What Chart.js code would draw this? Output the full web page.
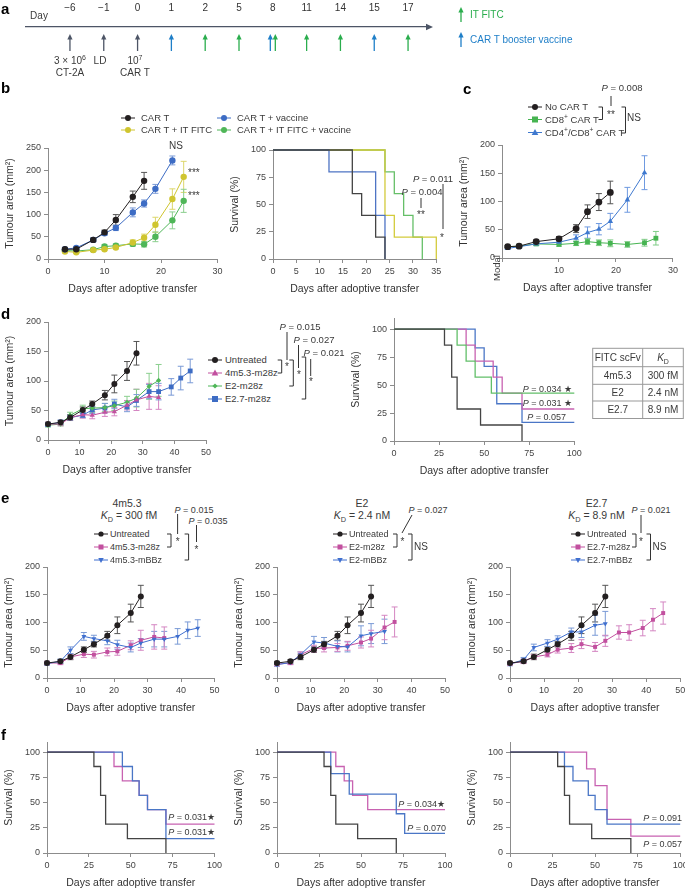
<!DOCTYPE html>
<html><head><meta charset="utf-8">
<script src="https://cdn.jsdelivr.net/npm/chart.js@4.4.1/dist/chart.umd.min.js"></script>
<style>
body{margin:0;width:685px;height:888px;position:relative;background:#fff;font-family:"Liberation Sans",Arial,sans-serif;color:#3a3a3a;overflow:hidden}
.t{position:absolute;white-space:nowrap;font-size:9.5px;line-height:1}
.c{transform:translate(-50%,-50%)}
.l{transform:translate(0,-50%)}
.r{transform:translate(-100%,-50%)}
.pl{position:absolute;font-weight:bold;font-size:15px;color:#000;line-height:1;transform:translate(0,-50%)}
canvas{position:absolute}
svg{position:absolute;left:0;top:0}
sup,sub{font-size:70%;line-height:0}
</style></head><body>
<svg id="ov" width="685" height="888"></svg>
<script>
Chart.defaults.font.family = '"Liberation Sans", Arial, sans-serif';
Chart.defaults.color = '#444';

// timeline (panel a)
const timelineDays = ['\u22126', '\u22121', '0', '1', '2', '5', '8', '11', '14', '15', '17'];
const setupDays = ['\u22126', '\u22121', '0'];
const vaccineDays = ['1', '8', '15'];
const fitcDays = ['2', '5', '8', '11', '14', '17'];

// panel b, tumour area
const bCarTDays = [3, 5, 8, 10, 12, 15, 17];
const bCarT = [22, 22, 43, 60, 88, 140, 176];
const bCarTErr = [3, 3, 4, 5, 12, 13, 19];
const bVacDays = [3, 5, 8, 10, 12, 15, 17, 19, 22];
const bVac = [22, 25, 43, 58, 70, 105, 125, 158, 222];
const bVacErr = [3, 3, 4, 5, 6, 10, 8, 10, 10];
const bFitcDays = [3, 5, 8, 10, 12, 15, 17, 19, 22, 24];
const bFitc = [17, 15, 20, 22, 26, 37, 48, 77, 135, 185];
const bFitcErr = [2, 2, 3, 3, 3, 6, 8, 17, 23, 35];
const bFitcVac = [19, 18, 21, 28, 30, 34, 33, 50, 87, 131];
const bFitcVacErr = [2, 2, 3, 4, 4, 5, 6, 11, 19, 26];

// panel b, survival
const bSurvCarTT = [0, 17, 19, 22, 24], bSurvCarT = [100, 60, 40, 20, 0];
const bSurvVacT = [0, 12, 22, 24], bSurvVac = [100, 80, 40, 0];
const bSurvFitcT = [0, 24, 26, 35], bSurvFitc = [100, 40, 20, 0];
const bSurvFitcVacT = [0, 24, 26, 28, 30, 32], bSurvFitcVac = [100, 80, 60, 40, 20, 0];

// panel c
const cNoCarDays = [1, 3, 6, 10, 13, 15, 17, 19];
const cNoCar = [20, 21, 29, 34, 52, 82, 99, 116];
const cNoCarErr = [2, 3, 3, 4, 7, 12, 15, 20];
const cCd8Days = [1, 3, 6, 10, 13, 15, 17, 19, 22, 25, 27];
const cCd8 = [20, 21, 25, 24, 26, 29, 27, 26, 24, 27, 35];
const cCd8Err = [2, 2, 3, 3, 4, 5, 5, 6, 5, 6, 12];
const cCd4Cd8Days = [1, 3, 6, 10, 13, 15, 17, 19, 22, 25];
const cCd4Cd8 = [17, 20, 25, 28, 35, 45, 51, 65, 103, 151];
const cCd4Cd8Err = [2, 3, 3, 4, 6, 10, 10, 14, 22, 30];

// panels d/e, tumour area
const untreatedDays = [0, 4, 7, 11, 14, 18, 21, 25, 28];
const untreated = [27, 30, 38, 51, 61, 76, 95, 117, 147];
const untreatedErr = [3, 3, 5, 5, 5, 8, 15, 16, 20];
const m4m28Days = [0, 4, 7, 11, 14, 18, 21, 25, 28, 32, 35];
const m4m28 = [27, 27, 38, 43, 42, 47, 48, 59, 68, 74, 72];
const m4m28Err = [3, 3, 4, 6, 6, 7, 7, 8, 18, 22, 20];
const m4bbDays = [0, 4, 7, 11, 14, 18, 21, 25, 28, 32, 35, 39, 42, 45];
const m4bb = [26, 30, 50, 75, 71, 67, 60, 55, 63, 70, 70, 75, 86, 90];
const m4bbErr = [3, 4, 6, 7, 6, 7, 8, 8, 8, 14, 14, 14, 15, 15];
const e2m28Days = [0, 4, 7, 11, 14, 18, 21, 25, 28, 32, 35];
const e2m28 = [25, 27, 42, 53, 54, 55, 58, 64, 71, 91, 101];
const e2m28Err = [3, 3, 5, 6, 7, 7, 8, 10, 15, 22, 27];
const e2bbDays = [0, 4, 7, 11, 14, 18, 21, 25, 28, 32];
const e2bb = [24, 28, 42, 65, 63, 57, 56, 76, 80, 84];
const e2bbErr = [3, 3, 5, 10, 10, 10, 9, 18, 18, 22];
const e27m28Days = [0, 4, 7, 11, 14, 18, 21, 25, 28, 32, 35, 39, 42, 45];
const e27m28 = [26, 30, 38, 42, 51, 54, 61, 56, 67, 82, 82, 90, 105, 117];
const e27m28Err = [3, 4, 4, 4, 6, 8, 8, 8, 10, 12, 14, 14, 20, 20];
const e27bbDays = [0, 4, 7, 11, 14, 18, 21, 25, 28];
const e27bb = [25, 33, 55, 63, 70, 83, 83, 95, 98];
const e27bbErr = [3, 4, 6, 6, 6, 7, 10, 18, 22];

// panels d/f, survival
const untreatedT = [0, 28, 32, 35, 48, 71], untreatedS = [100, 85.7, 57.1, 28.6, 14.3, 0];
const m4m28T = [0, 40, 45, 55, 60, 71, 100], m4m28S = [100, 85.7, 71.4, 57.1, 42.9, 28.6, 28.6];
const m4bbT = [0, 45, 51, 55, 60, 71, 100], m4bbS = [100, 85.7, 71.4, 57.1, 42.9, 14.3, 14.3];
const e2m28T = [0, 35, 40, 45, 54, 100], e2m28S = [100, 85.7, 71.4, 57.1, 42.9, 42.9];
const e2bbT = [0, 32, 43, 71, 76, 100], e2bbS = [100, 78.6, 58.3, 38.9, 19.4, 19.4];
const e27m28T = [0, 45, 50, 57, 71, 100], e27m28S = [100, 83.3, 66.7, 33.3, 16.7, 16.7];
const e27bbT = [0, 32, 37, 46, 50, 57, 100], e27bbS = [100, 85.7, 71.4, 57.1, 42.9, 28.6, 28.6];

// table in d
const scfvNames = ['4m5.3', 'E2', 'E2.7'];
const scfvKd = ['300 fM', '2.4 nM', '8.9 nM'];

// colours
const BLACK = '#231f20', PINK = '#c2509f', PINK_E = '#d486c2';
const BLUE = '#3d6cc4', BLUE_E = '#7a9ad6', GREEN = '#4fb658', GREEN_E = '#8bcf8f';
const YELLOW = '#cfc52f', YELLOW_E = '#dcd66a';

// ---------- helpers ----------
const NS = 'http://www.w3.org/2000/svg';
const svg = document.getElementById('ov');
function el(tag, attrs) {
  const e = document.createElementNS(NS, tag);
  for (const k in attrs) e.setAttribute(k, attrs[k]);
  svg.appendChild(e);
  return e;
}
function ln(x1, y1, x2, y2, c, w) {
  el('line', {x1, y1, x2, y2, stroke: c || '#333', 'stroke-width': w || 1});
}
function brk(x, y1, y2) {
  el('path', {d: `M${x - 4},${y1}H${x}V${y2}H${x - 4}`, stroke: '#333', 'stroke-width': 1, fill: 'none'});
}
function arrowUp(x, yTop, yBot, c) {
  ln(x, yBot, x, yTop + 4, c, 1.3);
  el('polygon', {points: `${x},${yTop} ${x - 2.6},${yTop + 5.5} ${x + 2.6},${yTop + 5.5}`, fill: c});
}
function mark(x, y, shape, c, r) {
  ln(x - 7, y, x + 7, y, c, 1);
  if (shape === 'circle') el('circle', {cx: x, cy: y, r, fill: c});
  if (shape === 'rect') el('rect', {x: x - r, y: y - r, width: 2 * r, height: 2 * r, fill: c});
  if (shape === 'tri') el('polygon', {points: `${x},${y - r * 1.2} ${x - r * 1.1},${y + r * 0.8} ${x + r * 1.1},${y + r * 0.8}`, fill: c});
  if (shape === 'dtri') el('polygon', {points: `${x},${y + r * 1.2} ${x - r * 1.1},${y - r * 0.8} ${x + r * 1.1},${y - r * 0.8}`, fill: c});
  if (shape === 'diamond') el('polygon', {points: `${x},${y - r} ${x - r},${y} ${x},${y + r} ${x + r},${y}`, fill: c});
}
function T(x, y, html, cls, size, color) {
  const d = document.createElement('div');
  d.className = 't ' + (cls || 'c');
  d.style.left = x + 'px';
  d.style.top = y + 'px';
  if (size) d.style.fontSize = size + 'px';
  if (color) d.style.color = color;
  d.innerHTML = html;
  document.body.appendChild(d);
  return d;
}
function letter(x, y, s) {
  const d = document.createElement('div');
  d.className = 'pl';
  d.style.left = x + 'px';
  d.style.top = y + 'px';
  d.textContent = s;
  document.body.appendChild(d);
}

// error bars drawn under the markers
const errorBars = {
  id: 'errorBars',
  beforeDatasetsDraw(chart) {
    const ctx = chart.ctx, xs = chart.scales.x, ys = chart.scales.y;
    chart.data.datasets.forEach(ds => {
      if (!ds.errors) return;
      ctx.save();
      ctx.strokeStyle = ds.errorColor || ds.borderColor;
      ctx.lineWidth = 1;
      ds.data.forEach((p, j) => {
        const e = ds.errors[j];
        if (!e) return;
        const x = xs.getPixelForValue(p.x);
        const y1 = ys.getPixelForValue(p.y + e), y2 = ys.getPixelForValue(Math.max(0, p.y - e));
        ctx.beginPath();
        ctx.moveTo(x, y1); ctx.lineTo(x, y2);
        ctx.moveTo(x - 3, y1); ctx.lineTo(x + 3, y1);
        ctx.moveTo(x - 3, y2); ctx.lineTo(x + 3, y2);
        ctx.stroke();
      });
      ctx.restore();
    });
  }
};

function ser(days, vals, errs, color, errColor, style, r, rot) {
  return {
    data: days.map((d, i) => ({x: d, y: vals[i]})),
    errors: errs, errorColor: errColor,
    showLine: true, borderColor: color, backgroundColor: color, borderWidth: 1,
    pointStyle: style, pointRadius: r, pointRotation: rot || 0, pointBorderWidth: 0,
    clip: false
  };
}
function km(t, s, color) {
  return {
    data: t.map((x, i) => ({x, y: s[i]})),
    showLine: true, stepped: true, borderColor: color, borderWidth: 1.3,
    pointRadius: 0, clip: false
  };
}

const ML = 46, MT = 10, MR = 16, MB = 36;
const AXIS = '#8c8c8c';
function plot(box, o) {
  const w = Math.round(box.R - box.L + ML + MR), h = Math.round(box.B - box.T + MT + MB);
  const cv = document.createElement('canvas');
  cv.width = w; cv.height = h;
  cv.style.left = (box.L - ML) + 'px';
  cv.style.top = (box.T - MT) + 'px';
  cv.style.width = w + 'px';
  cv.style.height = h + 'px';
  document.body.appendChild(cv);
  return new Chart(cv, {
    type: 'scatter',
    data: {datasets: o.datasets},
    options: {
      responsive: false, animation: false, events: [],
      layout: {padding: {top: MT, right: w - ML - (box.R - box.L), left: 0, bottom: 0}},
      plugins: {legend: {display: false}, tooltip: {enabled: false}},
      scales: {
        x: {
          type: 'linear', min: o.xTicks[0], max: o.xTicks[o.xTicks.length - 1],
          afterBuildTicks: s => { s.ticks = o.xTicks.map(v => ({value: v})); },
          ticks: {font: {size: 9}, color: '#444', padding: 3, maxRotation: 0,
            callback: v => (o.hideX0 && v === 0) ? '' : String(v)},
          grid: {drawOnChartArea: false, tickLength: 4, color: AXIS},
          border: {color: AXIS},
          title: {display: true, text: 'Days after adoptive transfer', font: {size: 10.5}, color: '#333', padding: {top: 0, bottom: 0}},
          afterFit: s => { s.height = MB; }
        },
        y: {
          type: 'linear', min: 0, max: o.yMax,
          afterBuildTicks: s => { s.ticks = o.yTicks.map(v => ({value: v})); },
          ticks: {font: {size: 9}, color: '#444', padding: 3},
          grid: {drawOnChartArea: false, tickLength: 4, color: AXIS},
          border: {color: AXIS},
          title: {display: true, text: o.yTitle, font: {size: 10.5}, color: '#333', padding: {top: 2, bottom: 0}},
          afterFit: s => { s.width = ML; }
        }
      }
    },
    plugins: [errorBars]
  });
}

const TUM = 'Tumour area (mm\u00b2)', SURV = 'Survival (%)';
const survTicks = [0, 25, 50, 75, 100];

// ---------- panel a: timeline ----------
const timelineArrows = {
  id: 'timelineArrows',
  afterDraw(chart) {
    const ctx = chart.ctx, xs = chart.scales.x, a = chart.chartArea;
    const y0 = a.top;
    ctx.save();
    ctx.fillStyle = '#4d5566';
    ctx.beginPath();
    ctx.moveTo(a.right + 5, y0); ctx.lineTo(a.right - 2, y0 - 3.2); ctx.lineTo(a.right - 2, y0 + 3.2);
    ctx.fill();
    const draw = (day, color, dx) => {
      const x = xs.getPixelForValue(timelineDays.indexOf(day)) + dx;
      ctx.strokeStyle = color; ctx.fillStyle = color; ctx.lineWidth = 1.3;
      ctx.beginPath(); ctx.moveTo(x, y0 + 24); ctx.lineTo(x, y0 + 11); ctx.stroke();
      ctx.beginPath(); ctx.moveTo(x, y0 + 7); ctx.lineTo(x - 2.6, y0 + 12.5); ctx.lineTo(x + 2.6, y0 + 12.5); ctx.fill();
    };
    setupDays.forEach(d => draw(d, '#4d5566', 0));
    vaccineDays.forEach(d => draw(d, '#1f7fc8', fitcDays.includes(d) ? -2.5 : 0));
    fitcDays.forEach(d => draw(d, '#2aad4d', vaccineDays.includes(d) ? 2.5 : 0));
    ctx.restore();
  }
};
(function () {
  const cv = document.createElement('canvas');
  cv.width = 685; cv.height = 88;
  cv.style.left = '0px'; cv.style.top = '0px';
  document.body.appendChild(cv);
  new Chart(cv, {
    type: 'scatter',
    data: {datasets: []},
    options: {
      responsive: false, animation: false, events: [],
      layout: {padding: {left: 26, right: 257, top: 0, bottom: 0}},
      plugins: {legend: {display: false}, tooltip: {enabled: false}},
      scales: {
        x: {
          type: 'linear', position: 'top', min: -1.3, max: 10.59,
          afterBuildTicks: s => { s.ticks = timelineDays.map((d, i) => ({value: i})); },
          ticks: {callback: v => timelineDays[v], font: {size: 10}, color: '#333', padding: 5, maxRotation: 0},
          grid: {display: false},
          border: {color: '#4d5566', width: 1.3},
          afterFit: s => { s.height = 27; }
        },
        y: {display: false, min: 0, max: 1}
      }
    },
    plugins: [timelineArrows]
  });
})();
T(39, 16, 'Day', 'c', 10);
T(70, 61, '3 \u00d7 10<sup>6</sup>', 'c', 10);
T(70, 73, 'CT-2A', 'c', 10);
T(100, 61, 'LD', 'c', 10);
T(135, 61, '10<sup>7</sup>', 'c', 10);
T(135, 73, 'CAR T', 'c', 10);
arrowUp(461, 7, 22, '#2aad4d');
T(470, 15, 'IT FITC', 'l', 10, '#2aad4d');
arrowUp(461, 32, 47, '#1f7fc8');
T(470, 40, 'CAR T booster vaccine', 'l', 10, '#1f7fc8');

// ---------- panel b ----------
plot({L: 47.7, R: 217.3, T: 148, B: 259}, {
  xTicks: [0, 10, 20, 30], yMax: 250, yTicks: [0, 50, 100, 150, 200, 250], yTitle: TUM,
  datasets: [
    ser(bCarTDays, bCarT, bCarTErr, BLACK, '#555', 'circle', 3.2),
    ser(bVacDays, bVac, bVacErr, BLUE, BLUE_E, 'circle', 3.2),
    ser(bFitcDays, bFitc, bFitcErr, YELLOW, YELLOW_E, 'circle', 3.2),
    ser(bFitcDays, bFitcVac, bFitcVacErr, GREEN, GREEN_E, 'circle', 3.2)
  ]
});
plot({L: 272.7, R: 436, T: 149.7, B: 259}, {
  xTicks: [0, 5, 10, 15, 20, 25, 30, 35], yMax: 100, yTicks: survTicks, yTitle: SURV,
  datasets: [
    km(bSurvCarTT, bSurvCarT, '#444'),
    km(bSurvVacT, bSurvVac, '#4e74c4'),
    km(bSurvFitcT, bSurvFitc, '#d3cb3c'),
    km(bSurvFitcVacT, bSurvFitcVac, '#66bf68')
  ]
});
mark(128, 118, 'circle', BLACK, 3);
T(141, 118, 'CAR T', 'l', 9.5);
mark(128, 130, 'circle', YELLOW, 3);
T(141, 130, 'CAR T + IT FITC', 'l', 9.5);
mark(224, 118, 'circle', BLUE, 3);
T(237, 118, 'CAR T + vaccine', 'l', 9.5);
mark(224, 130, 'circle', GREEN, 3);
T(237, 130, 'CAR T + IT FITC + vaccine', 'l', 9.5);
T(176, 146, 'NS', 'c', 10);
T(188, 173, '***', 'l', 10);
T(188, 196, '***', 'l', 10);
T(433, 179, '<i>P</i> = 0.011', 'c', 9.5);
ln(443, 184, 443, 229);
T(442, 238, '*', 'c', 10);
T(422, 192, '<i>P</i> = 0.004', 'c', 9.5);
ln(421, 198, 421, 208);
T(421, 215, '**', 'c', 10);

// ---------- panel c ----------
plot({L: 502.3, R: 673.3, T: 145, B: 258.4}, {
  xTicks: [0, 10, 20, 30], yMax: 200, yTicks: [0, 50, 100, 150, 200], yTitle: TUM, hideX0: true,
  datasets: [
    ser(cNoCarDays, cNoCar, cNoCarErr, BLACK, '#555', 'circle', 3.4),
    ser(cCd4Cd8Days, cCd4Cd8, cCd4Cd8Err, '#3f79cf', '#6f9ae0', 'triangle', 3.2),
    ser(cCd8Days, cCd8, cCd8Err, '#46b451', '#7fcc86', 'rect', 3.4)
  ]
});
T(622, 88, '<i>P</i> = 0.008', 'c', 9.5);
ln(611, 96, 611, 106);
mark(535, 107, 'circle', BLACK, 3);
T(545, 107, 'No CAR T', 'l', 9.5);
mark(535, 119.5, 'rect', '#46b451', 3);
T(545, 119.5, 'CD8<sup>+</sup> CAR T', 'l', 9.5);
mark(535, 132.5, 'tri', '#3f79cf', 3);
T(545, 132.5, 'CD4<sup>+</sup>/CD8<sup>+</sup> CAR T', 'l', 9.5);
brk(602.5, 107, 119.5);
T(611, 115, '**', 'c', 10);
brk(625.5, 107, 133);
T(627, 118, 'NS', 'l', 10);
const modal = T(497, 268, 'Modal', 'c', 9.5);
modal.style.transform = 'translate(-50%,-50%) rotate(-90deg)';

// ---------- panel d ----------
plot({L: 48, R: 206, T: 321.7, B: 440}, {
  xTicks: [0, 10, 20, 30, 40, 50], yMax: 200, yTicks: [0, 50, 100, 150, 200], yTitle: TUM,
  datasets: [
    ser(untreatedDays, untreated, untreatedErr, BLACK, '#555', 'circle', 3),
    ser(m4m28Days, m4m28, m4m28Err, PINK, PINK_E, 'triangle', 3),
    ser(e2m28Days, e2m28, e2m28Err, GREEN, GREEN_E, 'rectRot', 2.6),
    ser(e27m28Days, e27m28, e27m28Err, BLUE, BLUE_E, 'rect', 3.4)
  ]
});
plot({L: 394.3, R: 574.6, T: 318.3, B: 441.3}, {
  xTicks: [0, 25, 50, 75, 100], yMax: 110, yTicks: survTicks, yTitle: SURV,
  datasets: [
    km(untreatedT, untreatedS, '#444'),
    km(e2m28T, e2m28S, '#62bf69'),
    km(m4m28T, m4m28S, '#c862b1'),
    km(e27m28T, e27m28S, '#4a76c6')
  ]
});
mark(215, 360, 'circle', BLACK, 3);
T(225, 360, 'Untreated', 'l', 9.5);
mark(215, 373, 'tri', PINK, 3);
T(225, 373, '4m5.3-m28z', 'l', 9.5);
mark(215, 386, 'diamond', GREEN, 2.6);
T(225, 386, 'E2-m28z', 'l', 9.5);
mark(215, 399, 'rect', BLUE, 3);
T(225, 399, 'E2.7-m28z', 'l', 9.5);
brk(281.7, 360, 373);
brk(293.3, 360, 386);
brk(305.7, 357, 399);
T(300, 327, '<i>P</i> = 0.015', 'c', 9.5);
T(314, 340, '<i>P</i> = 0.027', 'c', 9.5);
T(324, 352.5, '<i>P</i> = 0.021', 'c', 9.5);
ln(287, 332, 287, 360);
T(287, 367, '*', 'c', 10);
ln(298.5, 345, 298.5, 368);
T(299, 375, '*', 'c', 10);
ln(310.7, 359, 310.7, 376);
T(311, 382, '*', 'c', 10);
T(572, 389, '<i>P</i> = 0.034 \u2605', 'r', 9);
T(572, 402.5, '<i>P</i> = 0.031 \u2605', 'r', 9);
T(566, 417, '<i>P</i> = 0.057', 'r', 9);
// table
const rowsY = [348.3, 366.7, 384.3, 401, 418.5];
el('rect', {x: 592.7, y: rowsY[0], width: 90.6, height: rowsY[4] - rowsY[0], fill: 'none', stroke: '#999', 'stroke-width': 1});
rowsY.slice(1, 4).forEach(y => ln(592.7, y, 683.3, y, '#999'));
ln(642.7, rowsY[0], 642.7, rowsY[4], '#999');
T(617.7, (rowsY[0] + rowsY[1]) / 2, 'FITC scFv', 'c', 10);
T(663, (rowsY[0] + rowsY[1]) / 2, '<i>K</i><sub>D</sub>', 'c', 10);
scfvNames.forEach((n, i) => {
  const y = (rowsY[i + 1] + rowsY[i + 2]) / 2;
  T(617.7, y, n, 'c', 10);
  T(663, y, scfvKd[i], 'c', 10);
});

// ---------- panel e ----------
const eBox = (L, R) => ({L, R, T: 566.7, B: 677.7});
const eOpts = ds => ({xTicks: [0, 10, 20, 30, 40, 50], yMax: 200, yTicks: [0, 50, 100, 150, 200], yTitle: TUM, datasets: ds});
plot(eBox(47.4, 214.9), eOpts([
  ser(untreatedDays, untreated, untreatedErr, BLACK, '#555', 'circle', 3),
  ser(m4bbDays, m4bb, m4bbErr, '#3f6fcf', BLUE_E, 'triangle', 2.8, 180),
  ser(m4m28Days, m4m28, m4m28Err, PINK, PINK_E, 'rect', 2.8)
]));
plot(eBox(277.2, 445.2), eOpts([
  ser(untreatedDays, untreated, untreatedErr, BLACK, '#555', 'circle', 3),
  ser(e2bbDays, e2bb, e2bbErr, '#3f6fcf', BLUE_E, 'triangle', 2.8, 180),
  ser(e2m28Days, e2m28, e2m28Err, PINK, PINK_E, 'rect', 2.8)
]));
plot(eBox(509.6, 679.8), eOpts([
  ser(untreatedDays, untreated, untreatedErr, BLACK, '#555', 'circle', 3),
  ser(e27bbDays, e27bb, e27bbErr, '#3f6fcf', BLUE_E, 'triangle', 2.8, 180),
  ser(e27m28Days, e27m28, e27m28Err, PINK, PINK_E, 'rect', 2.8)
]));
function eLegend(mx, names) {
  mark(mx, 534, 'circle', BLACK, 2.6);
  T(mx + 9, 534, 'Untreated', 'l', 9);
  mark(mx, 547, 'rect', PINK, 2.5);
  T(mx + 9, 547, names[0], 'l', 9);
  mark(mx, 560, 'dtri', '#3f6fcf', 2.5);
  T(mx + 9, 560, names[1], 'l', 9);
}
T(127, 503, '4m5.3', 'c', 10.5);
T(129, 515, '<i>K</i><sub>D</sub> = 300 fM', 'c', 10.5);
T(194, 509.5, '<i>P</i> = 0.015', 'c', 9);
T(208, 520.5, '<i>P</i> = 0.035', 'c', 9);
eLegend(101, ['4m5.3-m28z', '4m5.3-mBBz']);
brk(171, 534, 547);
T(177.6, 541.5, '*', 'c', 10);
ln(177.6, 514, 177.6, 534);
brk(188.6, 534, 560);
T(196.5, 549.5, '*', 'c', 10);
ln(196.5, 525, 196.5, 542);

T(362, 503, 'E2', 'c', 10.5);
T(362, 515, '<i>K</i><sub>D</sub> = 2.4 nM', 'c', 10.5);
T(428, 509.5, '<i>P</i> = 0.027', 'c', 9);
eLegend(340, ['E2-m28z', 'E2-mBBz']);
brk(397, 534, 547);
T(402.5, 541.5, '*', 'c', 10);
ln(412, 515, 402, 533);
brk(412, 534, 560);
T(414, 547, 'NS', 'l', 10);

T(596.5, 503, 'E2.7', 'c', 10.5);
T(596.5, 515, '<i>K</i><sub>D</sub> = 8.9 nM', 'c', 10.5);
T(651, 509.5, '<i>P</i> = 0.021', 'c', 9);
eLegend(578, ['E2.7-m28z', 'E2.7-mBBz']);
brk(636, 534, 547);
T(641, 541.5, '*', 'c', 10);
ln(641, 515, 641, 533);
brk(650.5, 534, 560);
T(652.5, 547, 'NS', 'l', 10);

// ---------- panel f ----------
const fBox = (L, R) => ({L, R, T: 742.3, B: 853.3});
const fOpts = ds => ({xTicks: [0, 25, 50, 75, 100], yMax: 110, yTicks: survTicks, yTitle: SURV, datasets: ds});
plot(fBox(47.4, 214.9), fOpts([
  km(untreatedT, untreatedS, '#444'),
  km(m4bbT, m4bbS, '#4a76c6'),
  km(m4m28T, m4m28S, '#c862b1')
]));
plot(fBox(277.2, 445.2), fOpts([
  km(untreatedT, untreatedS, '#444'),
  km(e2bbT, e2bbS, '#4a76c6'),
  km(e2m28T, e2m28S, '#c862b1')
]));
plot(fBox(509.6, 679.8), fOpts([
  km(untreatedT, untreatedS, '#444'),
  km(e27bbT, e27bbS, '#4a76c6'),
  km(e27m28T, e27m28S, '#c862b1')
]));
T(215, 817.3, '<i>P</i> = 0.031\u2605', 'r', 9);
T(215, 831.7, '<i>P</i> = 0.031\u2605', 'r', 9);
T(445, 804, '<i>P</i> = 0.034\u2605', 'r', 9);
T(446, 828.3, '<i>P</i> = 0.070', 'r', 9);
T(682, 817.7, '<i>P</i> = 0.091', 'r', 9);
T(682, 844.3, '<i>P</i> = 0.057', 'r', 9);

// panel letters
letter(1, 8, 'a');
letter(1, 87, 'b');
letter(463, 88, 'c');
letter(1, 313, 'd');
letter(1, 497, 'e');
letter(1, 734, 'f');
</script>
</body></html>
